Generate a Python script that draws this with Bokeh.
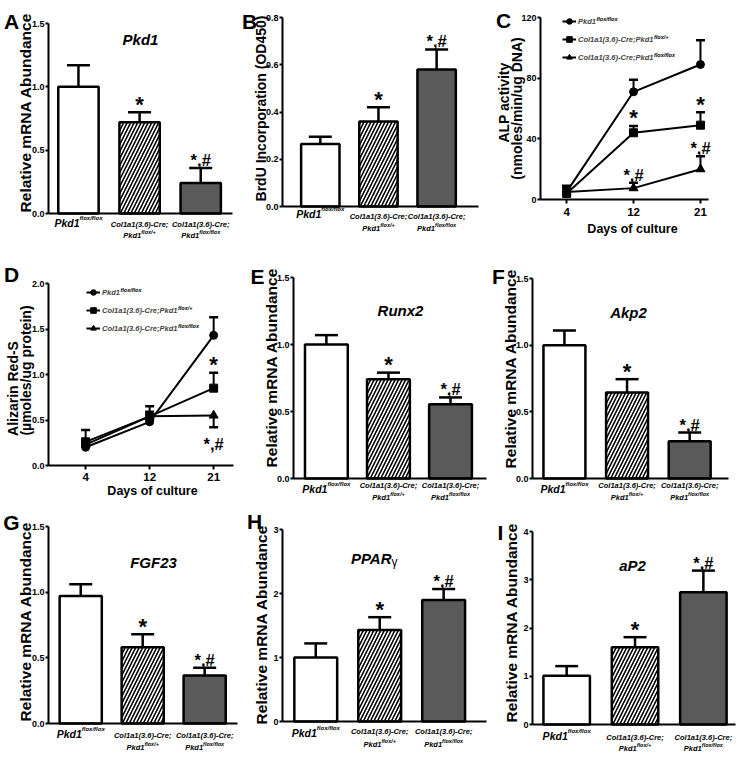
import math
from bokeh.plotting import figure
from bokeh.layouts import row, column
from bokeh.models import (Range1d, FixedTicker, Label, Whisker, TeeHead,
                          ColumnDataSource, Legend, LegendItem)
from bokeh.embed import file_html
from bokeh.resources import INLINE

FONT = "Liberation Sans"

# ---------------- data ----------------
group_main = [["Pkd1"], ["Col1a1(3.6)-Cre;", "Pkd1"], ["Col1a1(3.6)-Cre;", "Pkd1"]]
group_sup = [["flox/flox"], ["", "flox/+"], ["", "flox/flox"]]
sig_marks = ["", "*", "*,#"]

pkd1_mean = [1.00, 0.72, 0.24]
pkd1_err = [0.17, 0.08, 0.12]
brdu_mean = [0.265, 0.36, 0.58]
brdu_err = [0.03, 0.06, 0.085]
runx2_mean = [1.00, 0.74, 0.555]
runx2_err = [0.07, 0.05, 0.05]
akp2_mean = [1.00, 0.645, 0.28]
akp2_err = [0.11, 0.10, 0.065]
fgf23_mean = [0.97, 0.58, 0.365]
fgf23_err = [0.09, 0.10, 0.06]
ppar_mean = [1.00, 1.43, 1.90]
ppar_err = [0.22, 0.20, 0.17]
ap2_mean = [1.01, 1.60, 2.74]
ap2_err = [0.20, 0.21, 0.45]

days = ["4", "12", "21"]
legend_main = ["Pkd1", "Col1a1(3.6)-Cre;Pkd1", "Col1a1(3.6)-Cre;Pkd1"]
legend_sup = ["flox/flox", "flox/+", "flox/flox"]

alp_wt = [5, 71, 89]
alp_wt_err = [4, 8, 16]
alp_het = [4, 44, 49]
alp_het_err = [3.5, 4.5, 8.5]
alp_ko = [5, 7.5, 20]
alp_ko_err = [3.5, 3.5, 8.5]
alp_sig = [(1, 1, "*"), (1, 2, "*"), (2, 1, "*,#"), (2, 2, "*,#")]

ars_wt = [0.20, 0.48, 1.43]
ars_wt_err = [0.04, 0.05, 0.20]
ars_het = [0.26, 0.54, 0.85]
ars_het_err = [0.13, 0.11, 0.17]
ars_ko = [0.23, 0.54, 0.55]
ars_ko_err = [0.03, 0.05, -0.13]
ars_sig = [(1, 2, "*"), (2, 2, "*,#")]

ticks_15 = [0, 0.5, 1.0, 1.5]
labels_15 = ["0.0", "0.5", "1.0", "1.5"]
ticks_b = [0, 0.2, 0.4, 0.6, 0.8]
labels_b = ["0.0", "0.2", "0.4", "0.6", "0.8"]
ticks_c = [0, 40, 80, 120]
labels_c = ["0", "40", "80", "120"]
ticks_d = [0, 0.5, 1.0, 1.5, 2.0]
labels_d = ["0.0", "0.5", "1.0", "1.5", "2.0"]
ticks_h = [0, 1, 2, 3]
labels_h = ["0", "1", "2", "3"]
ticks_i = [0, 1, 2, 3, 4]
labels_i = ["0", "1", "2", "3", "4"]

# ---------------- styles ----------------
bar_fill = ["white", "white", "#5a5a5a"]
bar_hatch = [" ", "/", " "]

CW = {'P': .667, 'k': .556, 'd': .611, '1': .556, 'C': .722, 'o': .611, 'l': .278,
      'a': .556, '(': .333, '3': .556, '.': .278, '6': .556, ')': .333, '-': .333,
      'r': .389, 'e': .556, ';': .333, 'f': .333, 'x': .556, '/': .278, '+': .584,
      ' ': .278}


def tw(s, size):
    return sum(CW.get(c, .556) for c in s) * size


COLS = [(0, 240), (240, 491), (491, 745)]
ROWS = [(0, 250), (250, 507), (507, 760)]


class Panel:
    def __init__(self, col, rw, frame, xr, ymax, yticks, ylabels):
        self.cl, self.cr = COLS[col]
        self.ct, self.cb = ROWS[rw]
        fl, ft, fr, fb = frame
        self.frame = frame
        x0, x1 = xr
        ux = (x1 - x0) / (fr - fl)
        uy = ymax / (fb - ft)
        p = figure(width=self.cr - self.cl, height=self.cb - self.ct, min_border=0,
                   x_range=Range1d(x0 - (fl - self.cl) * ux, x1 + (self.cr - fr) * ux),
                   y_range=Range1d(-(self.cb - fb) * uy, ymax + (ft - self.ct) * uy),
                   output_backend="svg", toolbar_location=None, tools="")
        p.outline_line_color = None
        p.xgrid.visible = False
        p.ygrid.visible = False
        p.background_fill_color = "white"
        p.border_fill_color = "white"
        for ax in (p.xaxis[0], p.yaxis[0]):
            ax.axis_line_width = 2
            ax.axis_line_color = "black"
            ax.major_tick_line_width = 2
            ax.major_tick_line_color = "black"
            ax.major_tick_out = 3
            ax.major_tick_in = 0
            ax.minor_tick_line_color = None
            ax.major_label_text_font = FONT
            ax.major_label_text_font_style = "bold"
            ax.major_label_text_font_size = "9px"
            ax.major_label_text_color = "black"
            ax.major_label_standoff = 1
        p.yaxis[0].ticker = FixedTicker(ticks=yticks)
        p.yaxis[0].major_label_overrides = {t: s for t, s in zip(yticks, ylabels)}
        p.yaxis[0].fixed_location = x0
        p.yaxis[0].bounds = (0, ymax)
        p.xaxis[0].fixed_location = 0
        p.xaxis[0].bounds = (x0, x1)
        self.p = p

    def sx(self, X):
        return X - self.cl

    def sy(self, Y):
        return self.cb - Y

    def text(self, text, X, Y, size, style="bold", align="center", baseline="middle",
             angle=0.0, x_offset=0, y_offset=0, font=FONT):
        self.p.add_layout(Label(x=self.sx(X), y=self.sy(Y), x_units="screen",
                                y_units="screen", text=text, text_font=font,
                                text_font_style=style, text_font_size=f"{size}px",
                                text_align=align, text_baseline=baseline, angle=angle,
                                x_offset=x_offset, y_offset=y_offset,
                                text_color="black"))

    def data_text(self, text, x, y, size, y_offset=0, style="bold"):
        self.p.add_layout(Label(x=x, y=y, text=text, text_font=FONT,
                                text_font_style=style, text_font_size=f"{size}px",
                                text_align="center", text_baseline="alphabetic",
                                y_offset=y_offset, text_color="black"))

    def cat_text(self, main, sup, i, Y, size, sup_size, rise):
        mw = tw(main, size)
        sw = tw(sup, sup_size) if sup else 0
        start = -(mw + sw) / 2
        self.p.add_layout(Label(x=i, y=self.sy(Y), x_units="data", y_units="screen",
                                text=main, text_font=FONT,
                                text_font_style="bold italic",
                                text_font_size=f"{size}px", text_align="right",
                                text_baseline="middle", x_offset=start + mw,
                                text_color="black"))
        if sup:
            self.p.add_layout(Label(x=i, y=self.sy(Y), x_units="data",
                                    y_units="screen", text=sup, text_font=FONT,
                                    text_font_style="bold italic",
                                    text_font_size=f"{sup_size}px", text_align="left",
                                    text_baseline="middle", x_offset=start + mw,
                                    y_offset=rise, text_color="black"))


def sig_text(P, s, x, y, below=False):
    if s == "*":
        P.data_text(s, x, y, 22, y_offset=-16 if below else 8)
    else:
        P.data_text(s, x, y, 16.5, y_offset=-17 if below else 8)


def bar_panel(col, rw, frame, xr, barw, ymax, yticks, ylabels, mean, err,
              ylab, ylab_xy, ylab_size, letter, letter_xy, cat_off, title=None,
              title_xy=None):
    P = Panel(col, rw, frame, xr, ymax, yticks, ylabels)
    p = P.p
    p.xaxis[0].ticker = FixedTicker(ticks=[])
    idx = list(range(len(mean)))
    hi = [m + e for m, e in zip(mean, err)]
    src = ColumnDataSource(dict(x=idx, top=mean, fill=bar_fill, hatch=bar_hatch,
                                lo=mean, hi=hi))
    p.vbar(x="x", top="top", width=barw, source=src, fill_color="fill",
           line_color="black", line_width=2.5, hatch_pattern="hatch",
           hatch_color="black", hatch_scale=7, hatch_weight=1.6)
    p.add_layout(Whisker(source=src, base="x", lower="lo", upper="hi",
                         dimension="height", line_width=2.5, line_color="black",
                         lower_head=None,
                         upper_head=TeeHead(size=23, line_width=2.5,
                                            line_color="black"),
                         level="overlay"))
    for i, s in enumerate(sig_marks):
        if s:
            sig_text(P, s, i, hi[i])
    fb = frame[3]
    for i in idx:
        lines = group_main[i]
        sups = group_sup[i]
        if len(lines) == 1:
            P.cat_text(lines[0], sups[0], i, fb + cat_off[0], 10.5, 6, 5)
        else:
            for j, (m, s) in enumerate(zip(lines, sups)):
                P.cat_text(m, s, i, fb + cat_off[1 + j], 7.5, 5.5, 4)
    P.text(ylab, ylab_xy[0], ylab_xy[1], ylab_size, angle=math.pi / 2)
    P.text(letter, letter_xy[0], letter_xy[1], 21)
    if title:
        if title == "PPARγ":
            P.text("PPAR", title_xy[0] + 6, title_xy[1], 15, style="bold italic",
                   align="right")
            P.text("γ", title_xy[0] + 6, title_xy[1] + 3, 12, style="normal",
                   align="left")
        else:
            P.text(title, title_xy[0], title_xy[1], 15, style="bold italic")
    return p


def line_panel(col, rw, frame, xr, ymax, yticks, ylabels, series, sig, ylab_lines,
               ylab_xys, letter, letter_xy, legend_xy, xlab_xy, standoff, cap=9):
    P = Panel(col, rw, frame, xr, ymax, yticks, ylabels)
    p = P.p
    xs = list(range(len(days)))
    p.xaxis[0].ticker = FixedTicker(ticks=xs)
    p.xaxis[0].major_label_overrides = {i: d for i, d in zip(xs, days)}
    p.xaxis[0].major_label_text_font_size = "11.5px"
    p.xaxis[0].major_tick_out = 4
    p.xaxis[0].major_label_standoff = standoff
    markers = [("circle", 8), ("square", 8), ("triangle", 9)]
    items = []
    caps = []
    for k, (vals, errs) in enumerate(series):
        mk, sz = markers[k]
        rl = p.line(xs, vals, line_width=2, line_color="black")
        rs = p.scatter(xs, vals, marker=mk, size=sz, fill_color="black",
                       line_color="black")
        items.append(LegendItem(label=legend_main[k], renderers=[rl, rs]))
        caps.append([v + e for v, e in zip(vals, errs)])
        up = [(x, v, v + e) for x, v, e in zip(xs, vals, errs) if e >= 0]
        dn = [(x, v + e, v) for x, v, e in zip(xs, vals, errs) if e < 0]
        for grp, is_up in ((up, True), (dn, False)):
            if not grp:
                continue
            s = ColumnDataSource(dict(x=[u[0] for u in grp], lo=[u[1] for u in grp],
                                      hi=[u[2] for u in grp]))
            head = TeeHead(size=cap, line_width=2.5, line_color="black")
            p.add_layout(Whisker(source=s, base="x", lower="lo", upper="hi",
                                 dimension="height", line_width=2,
                                 line_color="black",
                                 lower_head=None if is_up else head,
                                 upper_head=head if is_up else None,
                                 level="overlay"))
    lx, lyc = legend_xy
    n = len(items)
    lh = n * 14 + (n - 1) * 4
    ltop = lyc - 7
    leg = Legend(items=items, location=(P.sx(lx), P.sy(ltop + lh)), glyph_width=14,
                 glyph_height=14, label_height=14, spacing=4, padding=0, margin=0,
                 label_standoff=2, label_text_font=FONT,
                 label_text_font_style="bold italic", label_text_font_size="7.5px",
                 border_line_alpha=0, background_fill_alpha=0)
    p.add_layout(leg)
    for k in range(n):
        P.text(legend_sup[k], lx + 16 + tw(legend_main[k], 7.5), lyc + 18 * k, 5.5,
               style="bold italic", align="left", y_offset=3)
    for k, d, s in sig:
        sig_text(P, s, d, caps[k][d], below=series[k][1][d] < 0)
    for t, (X, Y) in zip(ylab_lines, ylab_xys):
        P.text(t, X, Y, 14, angle=math.pi / 2)
    P.text("Days of culture", xlab_xy[0], xlab_xy[1], 12.5)
    P.text(letter, letter_xy[0], letter_xy[1], 21)
    return p


pA = bar_panel(0, 0, (48, 23, 232, 213), (-0.49, 2.52), 0.66, 1.5, ticks_15, labels_15,
               pkd1_mean, pkd1_err, "Relative mRNA Abundance", (25, 112), 15.5,
               "A", (11, 21), (9, 11, 22), "Pkd1", (140, 39))
pB = bar_panel(1, 0, (282, 17, 478, 206), (-0.65, 2.72), 0.66, 0.8, ticks_b, labels_b,
               brdu_mean, brdu_err, "BrdU Incorporation (OD450)", (260, 108), 14,
               "B", (249, 21), (7, 10, 22))
pC = line_panel(2, 0, (540, 17, 708, 199), (-0.39, 2.12), 120, ticks_c, labels_c,
                [(alp_wt, alp_wt_err), (alp_het, alp_het_err), (alp_ko, alp_ko_err)],
                alp_sig, ["ALP activity", "(nmoles/min/ug DNA)"],
                [(503, 102), (516, 108)], "C", (503, 20), (562, 21), (632, 228), 4)
pD = line_panel(0, 1, (48, 283, 233, 465), (-0.58, 2.31), 2.0, ticks_d, labels_d,
                [(ars_wt, ars_wt_err), (ars_het, ars_het_err), (ars_ko, ars_ko_err)],
                ars_sig, ["Alizarin Red-S", "(\u00b5moles/ug protein)"],
                [(12, 388), (25, 370)], "D", (11, 274), (86, 292), (152, 490), 3)
pE = bar_panel(1, 1, (293, 277, 486, 478), (-0.53, 2.58), 0.69, 1.5, ticks_15, labels_15,
               runx2_mean, runx2_err, "Relative mRNA Abundance", (270.5, 367), 15.5,
               "E", (257, 276), (10, 7, 19), "Runx2", (400, 310))
pF = bar_panel(2, 1, (532, 278, 728, 478), (-0.51, 2.62), 0.67, 1.5, ticks_15, labels_15,
               akp2_mean, akp2_err, "Relative mRNA Abundance", (509.5, 368), 15.5,
               "F", (498, 276), (10, 7, 19), "Akp2", (628, 312))
pG = bar_panel(0, 2, (48, 526, 237, 723), (-0.52, 2.53), 0.68, 1.5, ticks_15, labels_15,
               fgf23_mean, fgf23_err, "Relative mRNA Abundance", (25, 621), 15.5,
               "G", (11, 522), (10, 12, 24), "FGF23", (153, 562))
pH = bar_panel(1, 2, (282, 529, 486, 721), (-0.52, 2.67), 0.67, 3, ticks_h, labels_h,
               ppar_mean, ppar_err, "Relative mRNA Abundance", (261, 624), 15.5,
               "H", (254, 521), (11, 10, 23), "PPARγ", (385, 558))
pI = bar_panel(2, 2, (532, 531, 735, 724), (-0.50, 2.47), 0.68, 4, ticks_i, labels_i,
               ap2_mean, ap2_err, "Relative mRNA Abundance", (511, 622), 15.5,
               "I", (500, 532), (11, 13, 24), "aP2", (632, 565))

layout = column(row(pA, pB, pC), row(pD, pE, pF), row(pG, pH, pI))
open("out.html", "w").write(file_html(layout, INLINE))
